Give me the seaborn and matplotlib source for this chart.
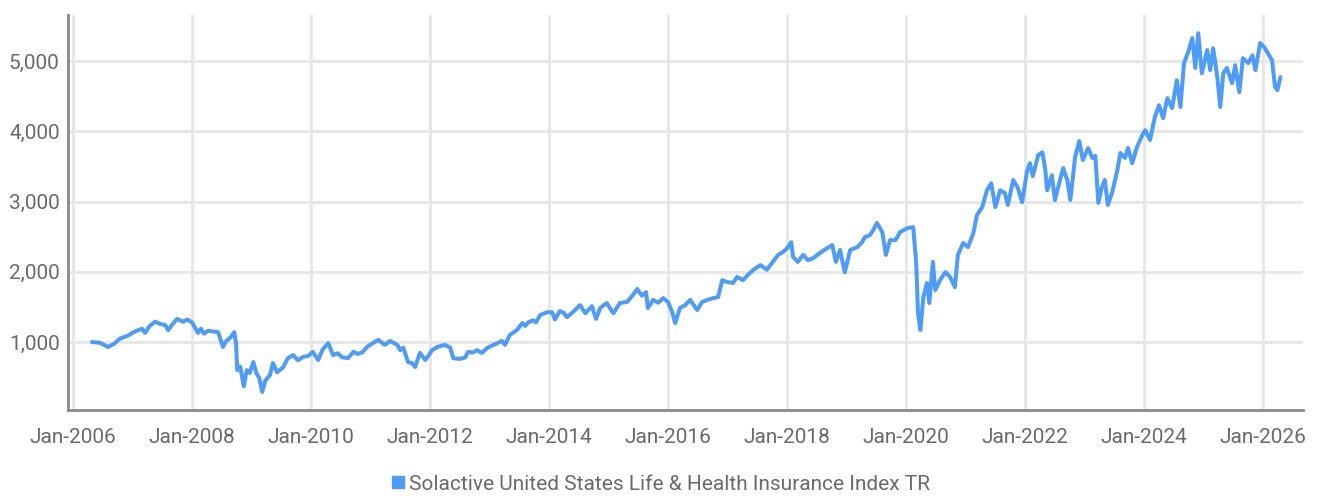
import matplotlib
matplotlib.use("Agg")
import matplotlib.pyplot as plt
from matplotlib.lines import Line2D
from matplotlib.ticker import FuncFormatter
import numpy as np
import pandas as pd
import seaborn as sns

series_name = "Solactive United States Life & Health Insurance Index TR"

# time in decimal years
years = [
    2006.32, 2006.45, 2006.59, 2006.69, 2006.79, 2006.92, 2007.04, 2007.16, 2007.21, 2007.29,
    2007.38, 2007.46, 2007.55, 2007.60, 2007.66, 2007.75, 2007.85, 2007.92, 2008.00, 2008.10,
    2008.15, 2008.20, 2008.27, 2008.35, 2008.44, 2008.52, 2008.57, 2008.64, 2008.71, 2008.74,
    2008.76, 2008.81, 2008.87, 2008.92, 2008.97, 2009.03, 2009.08, 2009.13, 2009.18, 2009.23,
    2009.31, 2009.36, 2009.43, 2009.53, 2009.61, 2009.70, 2009.78, 2009.87, 2009.95, 2010.03,
    2010.12, 2010.20, 2010.29, 2010.37, 2010.45, 2010.52, 2010.62, 2010.71, 2010.79, 2010.87,
    2010.94, 2011.03, 2011.13, 2011.24, 2011.33, 2011.45, 2011.50, 2011.55, 2011.63, 2011.70,
    2011.75, 2011.83, 2011.92, 2011.97, 2012.03, 2012.12, 2012.25, 2012.34, 2012.39, 2012.50,
    2012.59, 2012.64, 2012.72, 2012.79, 2012.87, 2012.96, 2013.04, 2013.13, 2013.21, 2013.26,
    2013.34, 2013.46, 2013.55, 2013.60, 2013.65, 2013.73, 2013.78, 2013.85, 2013.97, 2014.05,
    2014.10, 2014.18, 2014.24, 2014.30, 2014.40, 2014.52, 2014.61, 2014.72, 2014.79, 2014.86,
    2014.97, 2015.08, 2015.19, 2015.31, 2015.41, 2015.48, 2015.56, 2015.63, 2015.66, 2015.75,
    2015.83, 2015.92, 2016.00, 2016.07, 2016.12, 2016.20, 2016.29, 2016.37, 2016.49, 2016.57,
    2016.66, 2016.76, 2016.84, 2016.91, 2016.99, 2017.09, 2017.16, 2017.26, 2017.34, 2017.43,
    2017.55, 2017.66, 2017.76, 2017.85, 2017.93, 2018.00, 2018.07, 2018.10, 2018.18, 2018.27,
    2018.35, 2018.44, 2018.55, 2018.67, 2018.76, 2018.82, 2018.89, 2018.97, 2019.06, 2019.18,
    2019.26, 2019.31, 2019.39, 2019.45, 2019.51, 2019.60, 2019.66, 2019.73, 2019.82, 2019.90,
    2020.02, 2020.12, 2020.17, 2020.20, 2020.24, 2020.29, 2020.35, 2020.39, 2020.45, 2020.49,
    2020.57, 2020.66, 2020.74, 2020.82, 2020.87, 2020.96, 2021.04, 2021.13, 2021.19, 2021.28,
    2021.36, 2021.43, 2021.50, 2021.58, 2021.66, 2021.71, 2021.80, 2021.88, 2021.95, 2022.03,
    2022.08, 2022.13, 2022.22, 2022.29, 2022.34, 2022.37, 2022.45, 2022.50, 2022.56, 2022.64,
    2022.71, 2022.76, 2022.84, 2022.91, 2022.97, 2023.06, 2023.13, 2023.18, 2023.23, 2023.29,
    2023.34, 2023.39, 2023.46, 2023.55, 2023.60, 2023.68, 2023.73, 2023.80, 2023.88, 2023.97,
    2024.02, 2024.10, 2024.18, 2024.25, 2024.32, 2024.39, 2024.47, 2024.55, 2024.61, 2024.67,
    2024.74, 2024.81, 2024.86, 2024.91, 2024.97, 2025.06, 2025.11, 2025.16, 2025.23, 2025.28,
    2025.33, 2025.39, 2025.48, 2025.53, 2025.60, 2025.66, 2025.75, 2025.82, 2025.87, 2025.95,
    2026.02, 2026.08, 2026.15, 2026.20, 2026.24, 2026.29,
]

values = [
    1000, 990, 930, 975, 1050, 1090, 1150, 1190, 1130, 1230,
    1290, 1260, 1240, 1170, 1240, 1330, 1290, 1320, 1280, 1130,
    1190, 1120, 1160, 1150, 1140, 930, 1010, 1060, 1140, 980,
    600, 650, 370, 600, 560, 715, 560, 490, 290, 450,
    530, 700, 570, 640, 770, 815, 740, 790, 800, 860,
    745, 900, 985, 815, 840, 785, 770, 860, 830, 860,
    930, 980, 1030, 960, 1015, 960, 885, 920, 715, 700,
    645, 845, 745, 800, 880, 930, 960, 920, 770, 760,
    780, 860, 850, 885, 845, 915, 950, 985, 1015, 960,
    1100, 1170, 1270, 1230, 1280, 1310, 1280, 1385, 1425, 1425,
    1320, 1440, 1420, 1355, 1425, 1525, 1410, 1510, 1330, 1485,
    1555, 1410, 1555, 1570, 1670, 1755, 1660, 1710, 1485, 1600,
    1560, 1625, 1570, 1425, 1270, 1485, 1525, 1600, 1455, 1570,
    1600, 1625, 1640, 1880, 1855, 1840, 1925, 1880, 1955, 2025,
    2095, 2030, 2140, 2240, 2280, 2335, 2420, 2210, 2140, 2240,
    2165, 2195, 2265, 2335, 2380, 2140, 2310, 1995, 2310, 2350,
    2420, 2495, 2520, 2595, 2695, 2565, 2240, 2450, 2450, 2565,
    2620, 2635, 2125, 1410, 1170, 1640, 1840, 1555, 2140, 1740,
    1880, 1995, 1925, 1780, 2240, 2410, 2350, 2550, 2805, 2920,
    3160, 3260, 2920, 3160, 3120, 2950, 3305, 3190, 2990, 3420,
    3545, 3360, 3660, 3700, 3450, 3160, 3375, 3020, 3220, 3475,
    3300, 3020, 3630, 3860, 3590, 3760, 3620, 3650, 2980, 3205,
    3305, 2950, 3120, 3445, 3690, 3620, 3760, 3545, 3775, 3945,
    4015, 3875, 4200, 4370, 4185, 4470, 4330, 4725, 4345, 4970,
    5125, 5325, 4900, 5395, 4825, 5155, 4870, 5180, 4770, 4345,
    4825, 4900, 4685, 4940, 4555, 5040, 4970, 5080, 4870, 5255,
    5195, 5110, 5010, 4630, 4585, 4770,
]

x_tick_years = [2006, 2008, 2010, 2012, 2014, 2016, 2018, 2020, 2022, 2024, 2026]
x_tick_labels = ["Jan-2006", "Jan-2008", "Jan-2010", "Jan-2012", "Jan-2014", "Jan-2016",
                 "Jan-2018", "Jan-2020", "Jan-2022", "Jan-2024", "Jan-2026"]
y_ticks = [1000, 2000, 3000, 4000, 5000]

LINE = "#4f9cf6"
TEXT = "#6a6a6a"
GRID = "#e6e6e6"
SPINE = "#8a8a8a"

sns.set_theme(style="whitegrid")
plt.rcParams["font.family"] = ["Roboto", "DejaVu Sans"]

df = pd.DataFrame({"year": years, "value": values})

fig = plt.figure(figsize=(13.2, 4.98), dpi=100)
ax = fig.add_axes([68 / 1320, 88 / 498, (1303 - 68) / 1320, (410 - 15) / 498])

sns.lineplot(data=df, x="year", y="value", ax=ax, color=LINE, linewidth=2.9,
             legend=False)

ax.set_xlim(2005.916, 2026.67)
ax.set_ylim(33, 5654)
ax.set_xticks(x_tick_years)
ax.set_xticklabels(x_tick_labels)
ax.set_yticks(y_ticks)
ax.yaxis.set_major_formatter(FuncFormatter(lambda v, p: f"{int(v):,}"))
ax.set_xlabel("")
ax.set_ylabel("")

ax.grid(True, color=GRID, linewidth=2)
ax.set_axisbelow(True)
ax.set_facecolor("white")
for s in ["top", "right"]:
    ax.spines[s].set_visible(False)
for s in ["left", "bottom"]:
    ax.spines[s].set_visible(True)
    ax.spines[s].set_color(SPINE)
    ax.spines[s].set_linewidth(2)

ax.tick_params(axis="both", length=0, labelsize=15, labelcolor=TEXT)
ax.tick_params(axis="x", pad=13)
ax.tick_params(axis="y", pad=6)

handle = Line2D([], [], linestyle="none", marker="s", markersize=8,
                markerfacecolor=LINE, markeredgecolor=LINE)
leg = fig.legend([handle], [series_name], loc="center", bbox_to_anchor=(0.5, 1 - 484 / 498),
                 frameon=False, handletextpad=0.1, handlelength=0.8,
                 prop={"size": 15})
for t in leg.get_texts():
    t.set_color(TEXT)

fig.savefig("out.png", dpi=100, facecolor="white")
